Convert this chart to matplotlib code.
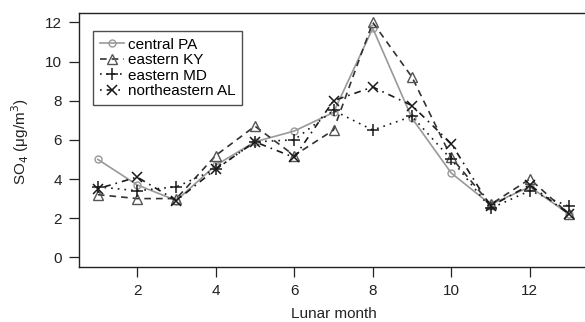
import matplotlib
matplotlib.use("Agg")
import matplotlib.pyplot as plt

months = list(range(1, 14))
central_pa = [5.0, 3.7, 2.9, 4.7, 5.9, 6.45, 7.4, 11.7, 7.1, 4.3, 2.7, 3.6, 2.2]
eastern_ky = [3.2, 3.0, 3.0, 5.2, 6.7, 5.2, 6.5, 12.0, 9.2, 5.1, 2.7, 4.0, 2.2]
eastern_md = [3.6, 3.4, 3.6, 4.5, 5.9, 6.0, 7.5, 6.5, 7.2, 5.0, 2.5, 3.4, 2.6]
northeastern_al = [3.5, 4.1, 2.9, 4.5, 5.9, 5.1, 8.0, 8.7, 7.75, 5.8, 2.6, 3.7, 2.2]
labels = ["central PA", "eastern KY", "eastern MD", "northeastern AL"]
xticks = [2, 4, 6, 8, 10, 12]
yticks = [0, 2, 4, 6, 8, 10, 12]

plt.rcParams['font.family'] = ['Liberation Sans', 'DejaVu Sans']
W, H = 585, 322
fig = plt.figure(figsize=(W / 100, H / 100), dpi=100)
l, r, t, b = 79, 588, 13, 266.7
ax = fig.add_axes([l / W, 1 - b / H, (r - l) / W, (b - t) / H])

dark = '#1a1a1a'
gray = '#999999'
lw = 1.2
ax.plot(months, central_pa, color=gray, lw=lw, ls='-', marker='o', ms=5,
        mfc='none', mec=gray, mew=1.0, label=labels[0])
ax.plot(months, eastern_ky, color='#333333', lw=lw, ls=(0, (4, 3)), marker='^', ms=7,
        mfc='none', mec='#555555', mew=1.0, label=labels[1])
ax.plot(months, eastern_md, color=dark, lw=lw, ls=(0, (1, 3)), marker='+', ms=8,
        mec=dark, mew=1.1, label=labels[2])
ax.plot(months, northeastern_al, color=dark, lw=lw, ls=(0, (1, 3, 4, 3)), marker='x', ms=6.5,
        mec=dark, mew=1.1, label=labels[3])

ax.set_xlim(0.52, 13.48)
ax.set_ylim(-0.48, 12.48)
ax.set_xticks(xticks)
ax.set_yticks(yticks)
ax.tick_params(axis='both', direction='out', length=7.5, width=0.9, labelsize=11,
               colors='#222222')
ax.tick_params(axis='x', pad=5)
ax.tick_params(axis='y', pad=5)
for s in ax.spines.values():
    s.set_linewidth(1.0)
    s.set_color('#222222')

fig.text(334 / W, 1 - 314 / H, "Lunar month", ha='center', va='center', fontsize=11,
         color='#222222')
fig.text(20 / W, 1 - 141.5 / H, r"SO$_4$ ($\mathregular{\mu}$g/m$^3$)", ha='center', va='center',
         rotation=90, fontsize=11, color='#222222')

leg = ax.legend(loc='upper left', bbox_to_anchor=(92.7 / W, 1 - 30.7 / H),
                bbox_transform=fig.transFigure, fontsize=11, frameon=True, fancybox=False,
                handlelength=1.6, handletextpad=0.25, labelspacing=0.1, borderpad=0.45,
                borderaxespad=0)
leg.get_frame().set_edgecolor('#222222')
leg.get_frame().set_linewidth(1.0)

fig.savefig("out.png", dpi=100)
